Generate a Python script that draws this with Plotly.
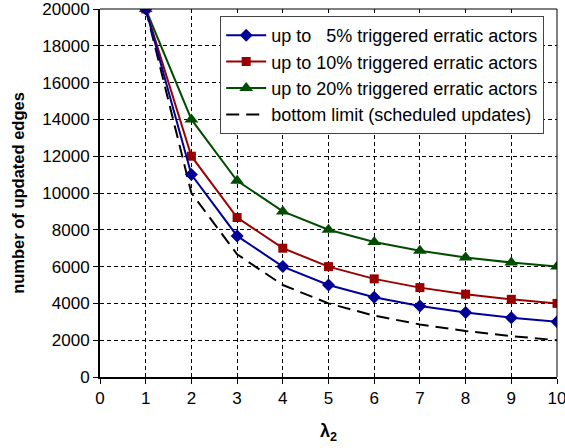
import plotly.graph_objects as go

lam = [1, 2, 3, 4, 5, 6, 7, 8, 9, 10]
up5 = [20000, 11000, 7667, 6000, 5000, 4333, 3857, 3500, 3222, 3000]
up10 = [20000, 12000, 8667, 7000, 6000, 5333, 4857, 4500, 4222, 4000]
up20 = [20000, 14000, 10667, 9000, 8000, 7333, 6857, 6500, 6222, 6000]
bottom = [20000, 10000, 6667, 5000, 4000, 3333, 2857, 2500, 2222, 2000]

names = ["up to \u00a0 5% triggered erratic actors",
         "up to 10% triggered erratic actors",
         "up to 20% triggered erratic actors",
         "bottom limit (scheduled updates)"]

FONT = "Liberation Sans, Arial, sans-serif"

fig = go.Figure()
fig.add_trace(go.Scatter(x=lam, y=bottom, name=names[3], mode="lines",
                         line=dict(color="black", width=2, dash="13px,7px")))
fig.add_trace(go.Scatter(x=lam, y=up20, name=names[2], mode="lines+markers",
                         line=dict(color="#004d00", width=2),
                         marker=dict(symbol="triangle-up", size=12, color="#004d00")))
fig.add_trace(go.Scatter(x=lam, y=up10, name=names[1], mode="lines+markers",
                         line=dict(color="#990000", width=2),
                         marker=dict(symbol="square", size=9, color="#990000")))
fig.add_trace(go.Scatter(x=lam, y=up5, name=names[0], mode="lines+markers",
                         line=dict(color="#000099", width=2),
                         marker=dict(symbol="diamond", size=10, color="#000099")))

fig.update_layout(
    width=565, height=448,
    margin=dict(l=100, r=8, t=9, b=71),
    plot_bgcolor="white", paper_bgcolor="white",
    font=dict(family=FONT, size=17, color="black"),
    showlegend=True,
    legend=dict(x=0.263, y=0.981, xanchor="left", yanchor="top",
                bgcolor="white", bordercolor="#444444", borderwidth=1,
                font=dict(size=18), traceorder="reversed",
                tracegroupgap=0, itemwidth=40),
    xaxis=dict(range=[0, 10], dtick=1, tick0=0,
               showgrid=True, gridcolor="black", griddash="4px,3px", gridwidth=1,
               showline=True, linecolor="black", linewidth=2,
               ticks="outside", ticklen=5, tickcolor="black", tickwidth=1,
               zeroline=False, automargin=False, ticklabeloverflow="allow",
               tickfont=dict(size=17),
               title=dict(text="<b>λ<sub>2</sub></b>", font=dict(size=18), standoff=17)),
    yaxis=dict(range=[0, 20000], dtick=2000, tickformat="d",
               showgrid=True, gridcolor="black", griddash="4px,3px", gridwidth=1,
               showline=True, linecolor="black", linewidth=2,
               ticks="outside", ticklen=5, tickcolor="black", tickwidth=1,
               zeroline=False, automargin=False, ticklabeloverflow="allow",
               tickfont=dict(size=17),
               title=dict(text="<b>number of updated edges</b>", font=dict(size=16.5), standoff=14)),
)
fig.add_shape(type="line", xref="paper", yref="paper", x0=1, x1=1, y0=0, y1=1,
              line=dict(color="black", width=1))
fig.add_shape(type="line", xref="paper", yref="paper", x0=0, x1=1, y0=1, y1=1,
              line=dict(color="black", width=1))

fig.write_html("out.html", config={"displayModeBar": False},
               post_script="document.body.style.margin='0';document.body.style.overflow='hidden';")
